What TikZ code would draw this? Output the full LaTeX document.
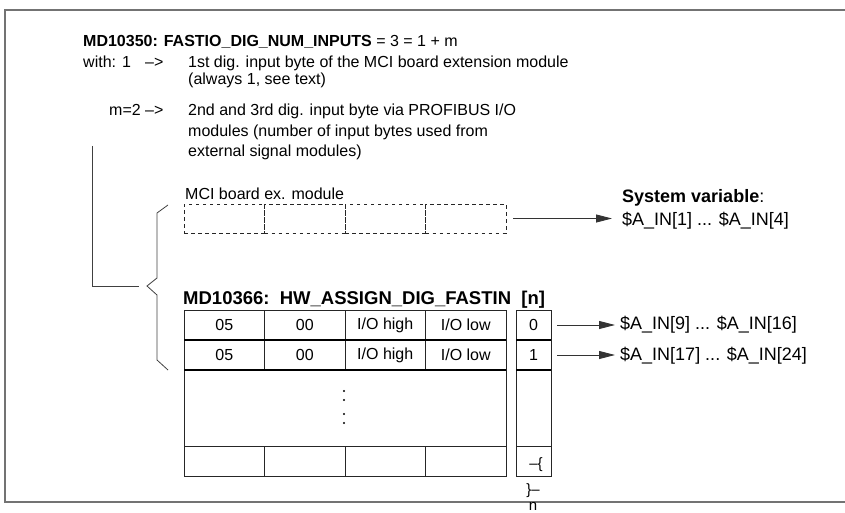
\documentclass[tikz,border=0pt]{standalone}
\usepackage{fontspec}
\setmainfont{Liberation Sans}
\usetikzlibrary{arrows.meta}
\tikzset{
  lbl/.style={anchor=base west, inner sep=0pt, font=\fontsize{16}{18}\selectfont},
  rlbl/.style={anchor=base west, inner sep=0pt, font=\fontsize{18}{20}\selectfont},
  tcell/.style={draw=black!85, line width=0.8pt, minimum width=80.5pt, minimum height=30pt, inner sep=0pt, outer sep=0pt, anchor=north west, font=\fontsize{16}{18}\selectfont},
  ncell/.style={tcell, minimum width=35pt},
  dcell/.style={draw=black!85, line width=0.75pt, dash pattern=on 3.5pt off 3.5pt, minimum width=80.5pt, minimum height=29pt, inner sep=0pt, outer sep=0pt, anchor=north west},
  arr/.style={draw=black!80, line width=0.9pt, -{Triangle[length=16pt,width=8pt]}},
  frameline/.style={draw=black!55, line width=1.6pt},
  brk/.style={draw=black!75, line width=0.8pt},
  thickdiv/.style={draw=black, line width=1.6pt},
  qtxt/.style={inner sep=0pt, font=\fontsize{15}{17}\selectfont},
}
\begin{document}
\begin{tikzpicture}[x=1pt,y=-1pt]
\useasboundingbox (0,0) rectangle (845,513);
% frame
\draw[frameline] (850,10) -- (5,10) -- (5,502) -- (850,502);

% header text
\node[lbl] (title) at (83,47) {\textbf{MD10350: FASTIO\_DIG\_NUM\_INPUTS} = 3 = 1 + m};
\node[lbl] (with) at (83,68) {with: 1};
\node[lbl] (ar1) at (145,68) {–>};
\node[lbl] (l1) at (188,68) {1st dig. input byte of the MCI board extension module};
\node[lbl] (l2) at (188,85) {(always 1, see text)};
\node[lbl] (m2) at (109,116) {m=2};
\node[lbl] (ar2) at (145,116) {–>};
\node[lbl] (l3) at (188,116) {2nd and 3rd dig. input byte via PROFIBUS I/O};
\node[lbl] (l4) at (188,137) {modules (number of input bytes used from};
\node[lbl] (l5) at (188,157) {external signal modules)};

% bracket and brace
\coordinate (lbtop) at (92.5,146);
\coordinate (lbend) at (139,286);
\draw[brk] (lbtop) |- (lbend);
\coordinate (btip) at (147,286);
\draw[brk] (168,205) -- (157,213) -- (157,278) -- (btip) -- (157,295) -- (157,360) -- (168,370);

% MCI board ex. module
\node[lbl] (mci) at (185,199) {MCI board ex. module};
\node[dcell] (d1) at (184,204) {};
\node[dcell] (d2) at (264.5,204) {};
\node[dcell] (d3) at (345,204) {};
\node[dcell] (d4) at (425.5,204) {};

\node[rlbl] (sv) at (622,202) {\textbf{System variable}:};
\node[rlbl] (sv1) at (622,225) {\$A\_IN[1] ... \$A\_IN[4]};
\draw[arr, shorten <=7pt, shorten >=10pt] (d4.east) -- (d4.east -| sv1.west);

% table
\node[anchor=base west, inner sep=0pt, font=\fontsize{18.5}{20}\selectfont] (ttl) at (183,304) {\textbf{MD10366:\ \ HW\_ASSIGN\_DIG\_FASTIN\ \ [n]}};
\node[tcell] (a1) at (184,310) {05};
\node[tcell] (a2) at (264.5,310) {00};
\node[tcell] (a3) at (345,310) {I/O high};
\node[tcell] (a4) at (425.5,310) {I/O low};
\node[tcell] (b1) at (184,340) {05};
\node[tcell] (b2) at (264.5,340) {00};
\node[tcell] (b3) at (345,340) {I/O high};
\node[tcell] (b4) at (425.5,340) {I/O low};
\node[tcell, minimum width=322pt, minimum height=76pt] (big) at (184,370) {};
\node[tcell] (c1) at (184,446) {};
\node[tcell] (c2) at (264.5,446) {};
\node[tcell] (c3) at (345,446) {};
\node[tcell] (c4) at (425.5,446) {};
\draw[thickdiv] (a1.south west) -- (a4.south east);
\draw[thickdiv] (b1.south west) -- (b4.south east);
\foreach \yy in {391,400,414,423} \fill (344,\yy) circle (1.2);

\node[ncell] (n0) at (516,310) {0};
\node[ncell] (n1) at (516,340) {1};
\node[ncell, minimum height=76pt] (n2) at (516,370) {};
\node[ncell] (n3) at (516,446) {};
\draw[thickdiv] (n0.south west) -- (n0.south east);
\draw[thickdiv] (n1.south west) -- (n1.south east);
\node[qtxt] (q1) at (536,465) {–\{};
\node[qtxt] (q2) at (533,491) {\}–};
\node[qtxt] (q3) at (533,506) {n};

\node[rlbl] (r0) at (620,329) {\$A\_IN[9] ... \$A\_IN[16]};
\node[rlbl] (r1) at (620,360) {\$A\_IN[17] ... \$A\_IN[24]};
\draw[arr, shorten <=6pt, shorten >=5pt] (n0.east) -- (n0.east -| r0.west);
\draw[arr, shorten <=6pt, shorten >=5pt] (n1.east) -- (n1.east -| r1.west);
\end{tikzpicture}
\end{document}
